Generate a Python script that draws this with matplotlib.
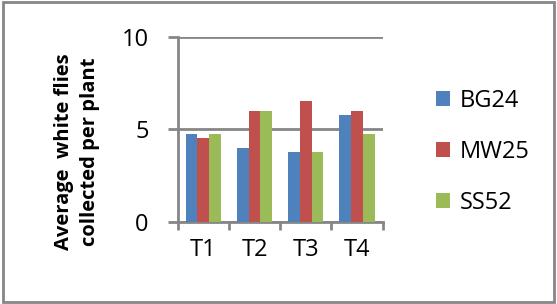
import numpy as np
import matplotlib.pyplot as plt
from matplotlib.patches import Rectangle

categories = ['T1', 'T2', 'T3', 'T4']
bg24 = [4.75, 4.0, 3.75, 5.75]
mw25 = [4.5, 6.0, 6.5, 6.0]
ss52 = [4.75, 6.0, 3.75, 4.75]
series_names = ['BG24', 'MW25', 'SS52']
colors = ['#4F81BD', '#C0504D', '#9BBB59']
grid_col = '#868686'

plt.rcParams['font.family'] = ['Open Sans', 'DejaVu Sans']

fig = plt.figure(figsize=(5.57, 3.04), dpi=100)
ax = fig.add_axes([0.319, 0.271, 0.368, 0.608])

x = np.arange(len(categories))
width = 0.23
bars = []
for i, vals in enumerate([bg24, mw25, ss52]):
    b = ax.bar(x + (i - 1) * width, vals, width=width, color=colors[i],
               label=series_names[i], zorder=3)
    bars.append(b)

ax.set_xlim(-0.5, len(categories) - 0.5)
ax.set_ylim(0, 10)
ax.set_yticks([0, 5, 10])
ax.yaxis.grid(True, color=grid_col, linewidth=2, zorder=0)
ax.set_axisbelow(True)

for s in ['top', 'right']:
    ax.spines[s].set_visible(False)
for s in ['left', 'bottom']:
    ax.spines[s].set_color(grid_col)
    ax.spines[s].set_linewidth(2)

ax.set_xticks(x)
ax.set_xticklabels(categories, fontsize=17)
ax.set_xticks(np.arange(-0.5, len(categories)), minor=True)
ax.tick_params(axis='x', which='major', length=0, pad=12)
ax.tick_params(axis='x', which='minor', length=6, width=2, color=grid_col, direction='out')
ax.tick_params(axis='y', length=7, width=2, color=grid_col, labelsize=17, pad=14)

ax.set_ylabel('Average  white flies\ncollected per plant', fontsize=14.5,
              fontweight='bold', linespacing=1.4)
ax.yaxis.set_label_coords(-0.38, 0.38)

fig.legend(handles=bars, labels=series_names, loc='center left',
           bbox_to_anchor=(0.745, 0.50), frameon=False, fontsize=17,
           handlelength=0.6, handleheight=0.6, handletextpad=0.4,
           labelspacing=1.15)

fig.patches.append(Rectangle((0.005, 0.005), 0.99, 0.99, transform=fig.transFigure,
                             fill=False, edgecolor=grid_col, linewidth=2))

fig.savefig('out.png', dpi=100)
